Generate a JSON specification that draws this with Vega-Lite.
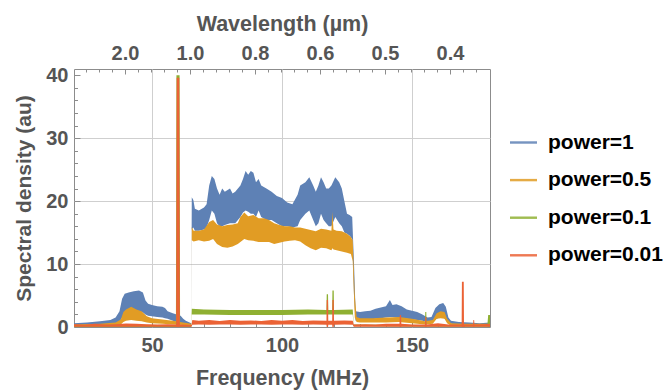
{
  "$schema": "https://vega.github.io/schema/vega-lite/v6.json",
  "width": 416,
  "height": 258,
  "autosize": {"type": "none"},
  "padding": {"left": 74, "top": 69, "right": 173, "bottom": 65},
  "background": "white",
  "config": {
    "view": {"stroke": "#8c8c8c", "strokeWidth": 1},
    "font": "Liberation Sans",
    "axis": {
      "domain": false,
      "labelFont": "Liberation Sans",
      "labelFontWeight": "bold",
      "labelFontSize": 20,
      "labelColor": "#555555",
      "titleFont": "Liberation Sans",
      "titleFontWeight": "bold",
      "titleFontSize": 21.5,
      "titleColor": "#555555",
      "tickColor": "#8c8c8c",
      "tickWidth": 1,
      "gridColor": "#cfcfcf",
      "gridWidth": 1,
      "grid": false
    }
  },
  "datasets": {
    "p1": [
      {"series":"power=1","f":20,"lo":0.1,"hi":0.6},
      {"series":"power=1","f":25,"lo":0.15,"hi":0.7},
      {"series":"power=1","f":30,"lo":0.2,"hi":0.9},
      {"series":"power=1","f":34,"lo":0.3,"hi":1.1},
      {"series":"power=1","f":36,"lo":0.5,"hi":1.5},
      {"series":"power=1","f":37.5,"lo":0.8,"hi":2.5},
      {"series":"power=1","f":38.5,"lo":1.5,"hi":4.5},
      {"series":"power=1","f":39.5,"lo":2.0,"hi":5.3},
      {"series":"power=1","f":41,"lo":2.2,"hi":5.5},
      {"series":"power=1","f":43,"lo":2.5,"hi":5.7},
      {"series":"power=1","f":45,"lo":2.5,"hi":5.8},
      {"series":"power=1","f":46.5,"lo":2.3,"hi":5.5},
      {"series":"power=1","f":47.5,"lo":2.0,"hi":4.2},
      {"series":"power=1","f":48.5,"lo":1.8,"hi":3.7},
      {"series":"power=1","f":50,"lo":1.7,"hi":3.5},
      {"series":"power=1","f":52,"lo":1.6,"hi":3.3},
      {"series":"power=1","f":54,"lo":1.5,"hi":3.2},
      {"series":"power=1","f":55,"lo":1.4,"hi":3.0},
      {"series":"power=1","f":56,"lo":1.3,"hi":2.5},
      {"series":"power=1","f":58,"lo":1.0,"hi":2.2},
      {"series":"power=1","f":59.5,"lo":0.8,"hi":2.0},
      {"series":"power=1","f":61,"lo":0.6,"hi":1.8},
      {"series":"power=1","f":62,"lo":0.4,"hi":1.3},
      {"series":"power=1","f":63,"lo":0.3,"hi":1.0},
      {"series":"power=1","f":65.1,"lo":0.2,"hi":0.6},
      {"series":"power=1","f":65.3,"lo":15.5,"hi":20.6},
      {"series":"power=1","f":65.9,"lo":15.8,"hi":20.2},
      {"series":"power=1","f":66.5,"lo":15.3,"hi":18.8},
      {"series":"power=1","f":68,"lo":15.3,"hi":18.5},
      {"series":"power=1","f":70,"lo":15.5,"hi":19.0},
      {"series":"power=1","f":71,"lo":15.8,"hi":19.5},
      {"series":"power=1","f":72,"lo":17.0,"hi":22.5},
      {"series":"power=1","f":73,"lo":18.5,"hi":24.0},
      {"series":"power=1","f":74,"lo":18.0,"hi":23.5},
      {"series":"power=1","f":75,"lo":16.5,"hi":22.0},
      {"series":"power=1","f":76,"lo":16.0,"hi":21.0},
      {"series":"power=1","f":77,"lo":16.0,"hi":22.0},
      {"series":"power=1","f":78,"lo":16.2,"hi":21.5},
      {"series":"power=1","f":80,"lo":16.5,"hi":22.0},
      {"series":"power=1","f":81,"lo":16.5,"hi":21.2},
      {"series":"power=1","f":82,"lo":16.5,"hi":21.5},
      {"series":"power=1","f":84,"lo":17.5,"hi":22.5},
      {"series":"power=1","f":85,"lo":18.2,"hi":23.5},
      {"series":"power=1","f":86,"lo":18.5,"hi":24.8},
      {"series":"power=1","f":87,"lo":18.3,"hi":24.2},
      {"series":"power=1","f":88,"lo":18.0,"hi":24.8},
      {"series":"power=1","f":89,"lo":18.0,"hi":24.5},
      {"series":"power=1","f":90,"lo":17.5,"hi":23.0},
      {"series":"power=1","f":91,"lo":18.5,"hi":23.5},
      {"series":"power=1","f":92,"lo":17.5,"hi":22.5},
      {"series":"power=1","f":94,"lo":17.0,"hi":22.0},
      {"series":"power=1","f":96,"lo":17.0,"hi":21.5},
      {"series":"power=1","f":98,"lo":16.5,"hi":20.8},
      {"series":"power=1","f":100,"lo":16.0,"hi":20.5},
      {"series":"power=1","f":102,"lo":16.0,"hi":19.8},
      {"series":"power=1","f":104,"lo":15.8,"hi":19.5},
      {"series":"power=1","f":106,"lo":16.0,"hi":21.0},
      {"series":"power=1","f":107,"lo":17.0,"hi":22.5},
      {"series":"power=1","f":109,"lo":18.0,"hi":23.0},
      {"series":"power=1","f":110.5,"lo":18.5,"hi":23.8},
      {"series":"power=1","f":112,"lo":17.0,"hi":22.5},
      {"series":"power=1","f":113,"lo":16.0,"hi":21.5},
      {"series":"power=1","f":114,"lo":16.5,"hi":22.5},
      {"series":"power=1","f":115,"lo":18.0,"hi":23.8},
      {"series":"power=1","f":116,"lo":17.0,"hi":23.0},
      {"series":"power=1","f":117,"lo":16.5,"hi":22.0},
      {"series":"power=1","f":118,"lo":16.0,"hi":22.0},
      {"series":"power=1","f":119,"lo":16.0,"hi":22.5},
      {"series":"power=1","f":120.5,"lo":17.5,"hi":23.8},
      {"series":"power=1","f":122,"lo":16.5,"hi":23.0},
      {"series":"power=1","f":123,"lo":16.0,"hi":22.0},
      {"series":"power=1","f":124,"lo":15.0,"hi":20.0},
      {"series":"power=1","f":125,"lo":14.8,"hi":18.0},
      {"series":"power=1","f":126,"lo":14.5,"hi":17.8},
      {"series":"power=1","f":127,"lo":14.0,"hi":17.5},
      {"series":"power=1","f":127.7,"lo":5.0,"hi":10.0},
      {"series":"power=1","f":128.3,"lo":1.0,"hi":2.5},
      {"series":"power=1","f":130,"lo":1.0,"hi":2.4},
      {"series":"power=1","f":132,"lo":1.1,"hi":2.5},
      {"series":"power=1","f":134,"lo":1.2,"hi":2.6},
      {"series":"power=1","f":136,"lo":1.3,"hi":2.9},
      {"series":"power=1","f":138,"lo":1.4,"hi":3.1},
      {"series":"power=1","f":140,"lo":1.5,"hi":3.3},
      {"series":"power=1","f":141.5,"lo":1.6,"hi":4.3},
      {"series":"power=1","f":142.5,"lo":1.6,"hi":3.5},
      {"series":"power=1","f":144,"lo":1.5,"hi":3.6},
      {"series":"power=1","f":146,"lo":1.4,"hi":3.3},
      {"series":"power=1","f":148,"lo":1.3,"hi":2.8},
      {"series":"power=1","f":150,"lo":1.2,"hi":2.6},
      {"series":"power=1","f":152,"lo":1.1,"hi":2.4},
      {"series":"power=1","f":154,"lo":1.0,"hi":2.0},
      {"series":"power=1","f":156,"lo":0.8,"hi":1.5},
      {"series":"power=1","f":157.5,"lo":0.8,"hi":1.6},
      {"series":"power=1","f":159,"lo":1.2,"hi":3.0},
      {"series":"power=1","f":160.5,"lo":1.5,"hi":3.6},
      {"series":"power=1","f":162,"lo":1.5,"hi":3.8},
      {"series":"power=1","f":163,"lo":1.2,"hi":3.2},
      {"series":"power=1","f":164,"lo":0.8,"hi":1.5},
      {"series":"power=1","f":165,"lo":0.5,"hi":1.0},
      {"series":"power=1","f":168,"lo":0.3,"hi":0.8},
      {"series":"power=1","f":172,"lo":0.3,"hi":0.7},
      {"series":"power=1","f":176,"lo":0.2,"hi":0.6},
      {"series":"power=1","f":180,"lo":0.2,"hi":0.7}
    ],
    "p05": [
      {"series":"power=0.5","f":20,"lo":0.0,"hi":0.4},
      {"series":"power=0.5","f":30,"lo":0.1,"hi":0.5},
      {"series":"power=0.5","f":36,"lo":0.2,"hi":0.7},
      {"series":"power=0.5","f":38,"lo":0.4,"hi":1.2},
      {"series":"power=0.5","f":39,"lo":0.8,"hi":2.4},
      {"series":"power=0.5","f":40,"lo":1.0,"hi":2.8},
      {"series":"power=0.5","f":42,"lo":1.1,"hi":3.2},
      {"series":"power=0.5","f":44,"lo":1.0,"hi":2.8},
      {"series":"power=0.5","f":46,"lo":0.9,"hi":2.5},
      {"series":"power=0.5","f":48,"lo":0.7,"hi":1.7},
      {"series":"power=0.5","f":50,"lo":0.6,"hi":1.4},
      {"series":"power=0.5","f":54,"lo":0.5,"hi":1.2},
      {"series":"power=0.5","f":58,"lo":0.4,"hi":1.0},
      {"series":"power=0.5","f":62,"lo":0.3,"hi":0.7},
      {"series":"power=0.5","f":65.1,"lo":0.2,"hi":0.5},
      {"series":"power=0.5","f":65.3,"lo":13.8,"hi":15.9},
      {"series":"power=0.5","f":66,"lo":13.6,"hi":15.3},
      {"series":"power=0.5","f":68,"lo":13.8,"hi":15.3},
      {"series":"power=0.5","f":70,"lo":13.6,"hi":15.5},
      {"series":"power=0.5","f":72,"lo":13.7,"hi":16.7},
      {"series":"power=0.5","f":73.5,"lo":14.0,"hi":17.0},
      {"series":"power=0.5","f":75,"lo":13.2,"hi":16.3},
      {"series":"power=0.5","f":77,"lo":12.7,"hi":16.0},
      {"series":"power=0.5","f":79,"lo":12.6,"hi":16.2},
      {"series":"power=0.5","f":81,"lo":12.8,"hi":16.3},
      {"series":"power=0.5","f":83,"lo":13.2,"hi":16.5},
      {"series":"power=0.5","f":84,"lo":13.5,"hi":17.5},
      {"series":"power=0.5","f":85.5,"lo":14.0,"hi":18.2},
      {"series":"power=0.5","f":87,"lo":13.8,"hi":17.6},
      {"series":"power=0.5","f":89,"lo":13.7,"hi":17.8},
      {"series":"power=0.5","f":91,"lo":13.5,"hi":17.3},
      {"series":"power=0.5","f":93,"lo":13.5,"hi":17.3},
      {"series":"power=0.5","f":95,"lo":13.5,"hi":17.0},
      {"series":"power=0.5","f":97,"lo":13.2,"hi":16.5},
      {"series":"power=0.5","f":99,"lo":13.4,"hi":16.2},
      {"series":"power=0.5","f":101,"lo":13.6,"hi":16.0},
      {"series":"power=0.5","f":103,"lo":13.7,"hi":16.0},
      {"series":"power=0.5","f":105,"lo":13.8,"hi":15.8},
      {"series":"power=0.5","f":107,"lo":13.6,"hi":15.8},
      {"series":"power=0.5","f":109,"lo":13.0,"hi":15.6},
      {"series":"power=0.5","f":111,"lo":12.5,"hi":15.4},
      {"series":"power=0.5","f":113,"lo":12.2,"hi":15.2},
      {"series":"power=0.5","f":115,"lo":12.6,"hi":15.6},
      {"series":"power=0.5","f":117,"lo":12.5,"hi":15.5},
      {"series":"power=0.5","f":119,"lo":12.2,"hi":15.3},
      {"series":"power=0.5","f":119.4,"lo":12.5,"hi":18.3},
      {"series":"power=0.5","f":119.8,"lo":12.3,"hi":15.5},
      {"series":"power=0.5","f":121,"lo":12.2,"hi":15.3},
      {"series":"power=0.5","f":123,"lo":12.0,"hi":15.2},
      {"series":"power=0.5","f":125,"lo":11.8,"hi":14.8},
      {"series":"power=0.5","f":126.5,"lo":11.6,"hi":14.3},
      {"series":"power=0.5","f":127.2,"lo":10.5,"hi":13.8},
      {"series":"power=0.5","f":128,"lo":1.5,"hi":5.0},
      {"series":"power=0.5","f":128.7,"lo":0.8,"hi":1.6},
      {"series":"power=0.5","f":130,"lo":0.7,"hi":1.4},
      {"series":"power=0.5","f":135,"lo":0.7,"hi":1.4},
      {"series":"power=0.5","f":140,"lo":0.7,"hi":1.5},
      {"series":"power=0.5","f":145,"lo":0.8,"hi":1.6},
      {"series":"power=0.5","f":150,"lo":0.6,"hi":1.3},
      {"series":"power=0.5","f":155,"lo":0.4,"hi":0.9},
      {"series":"power=0.5","f":158,"lo":0.5,"hi":1.1},
      {"series":"power=0.5","f":159.5,"lo":1.3,"hi":2.2},
      {"series":"power=0.5","f":161,"lo":1.4,"hi":2.5},
      {"series":"power=0.5","f":162.5,"lo":1.3,"hi":2.4},
      {"series":"power=0.5","f":163.5,"lo":0.6,"hi":1.3},
      {"series":"power=0.5","f":165,"lo":0.2,"hi":0.6},
      {"series":"power=0.5","f":170,"lo":0.1,"hi":0.5},
      {"series":"power=0.5","f":180,"lo":0.1,"hi":0.5}
    ],
    "p01": [
      {"series":"power=0.1","f":20,"lo":0.0,"hi":0.3},
      {"series":"power=0.1","f":40,"lo":0.0,"hi":0.35},
      {"series":"power=0.1","f":59.2,"lo":0.0,"hi":0.3},
      {"series":"power=0.1","f":59.4,"lo":0.0,"hi":40.0},
      {"series":"power=0.1","f":60.6,"lo":0.0,"hi":40.0},
      {"series":"power=0.1","f":60.8,"lo":0.0,"hi":0.3},
      {"series":"power=0.1","f":65.1,"lo":0.0,"hi":0.3},
      {"series":"power=0.1","f":65.3,"lo":2.0,"hi":2.9},
      {"series":"power=0.1","f":70,"lo":2.0,"hi":2.8},
      {"series":"power=0.1","f":80,"lo":1.9,"hi":2.7},
      {"series":"power=0.1","f":90,"lo":1.9,"hi":2.7},
      {"series":"power=0.1","f":100,"lo":1.9,"hi":2.7},
      {"series":"power=0.1","f":110,"lo":2.0,"hi":2.8},
      {"series":"power=0.1","f":117.1,"lo":2.0,"hi":2.7},
      {"series":"power=0.1","f":117.2,"lo":2.0,"hi":5.2},
      {"series":"power=0.1","f":117.7,"lo":2.0,"hi":5.2},
      {"series":"power=0.1","f":117.8,"lo":2.0,"hi":2.7},
      {"series":"power=0.1","f":119.3,"lo":2.0,"hi":2.7},
      {"series":"power=0.1","f":119.4,"lo":2.0,"hi":5.8},
      {"series":"power=0.1","f":119.9,"lo":2.0,"hi":5.8},
      {"series":"power=0.1","f":120.0,"lo":2.0,"hi":2.7},
      {"series":"power=0.1","f":127.2,"lo":2.0,"hi":2.8},
      {"series":"power=0.1","f":127.6,"lo":0.1,"hi":0.4},
      {"series":"power=0.1","f":155.0,"lo":0.05,"hi":0.3},
      {"series":"power=0.1","f":155.1,"lo":0.0,"hi":2.4},
      {"series":"power=0.1","f":155.5,"lo":0.0,"hi":2.4},
      {"series":"power=0.1","f":155.6,"lo":0.05,"hi":0.3},
      {"series":"power=0.1","f":179.0,"lo":0.05,"hi":0.3},
      {"series":"power=0.1","f":179.3,"lo":0.0,"hi":1.9},
      {"series":"power=0.1","f":180,"lo":0.0,"hi":1.9}
    ],
    "p001": [
      {"series":"power=0.01","f":20,"lo":0.05,"hi":0.45},
      {"series":"power=0.01","f":24,"lo":0.05,"hi":0.35},
      {"series":"power=0.01","f":28,"lo":0.05,"hi":0.5},
      {"series":"power=0.01","f":32,"lo":0.05,"hi":0.4},
      {"series":"power=0.01","f":36,"lo":0.05,"hi":0.45},
      {"series":"power=0.01","f":40,"lo":0.05,"hi":0.55},
      {"series":"power=0.01","f":44,"lo":0.05,"hi":0.5},
      {"series":"power=0.01","f":48,"lo":0.05,"hi":0.45},
      {"series":"power=0.01","f":52,"lo":0.05,"hi":0.4},
      {"series":"power=0.01","f":56,"lo":0.05,"hi":0.45},
      {"series":"power=0.01","f":59.3,"lo":0.05,"hi":0.4},
      {"series":"power=0.01","f":59.5,"lo":0.0,"hi":39.6},
      {"series":"power=0.01","f":60.5,"lo":0.0,"hi":39.6},
      {"series":"power=0.01","f":60.7,"lo":0.05,"hi":0.4},
      {"series":"power=0.01","f":63,"lo":0.05,"hi":0.35},
      {"series":"power=0.01","f":65.2,"lo":0.05,"hi":0.3},
      {"series":"power=0.01","f":65.5,"lo":0.35,"hi":1.1},
      {"series":"power=0.01","f":68,"lo":0.4,"hi":1.0},
      {"series":"power=0.01","f":72,"lo":0.35,"hi":1.1},
      {"series":"power=0.01","f":76,"lo":0.4,"hi":0.95},
      {"series":"power=0.01","f":80,"lo":0.4,"hi":1.1},
      {"series":"power=0.01","f":84,"lo":0.35,"hi":1.0},
      {"series":"power=0.01","f":88,"lo":0.4,"hi":1.05},
      {"series":"power=0.01","f":92,"lo":0.4,"hi":0.95},
      {"series":"power=0.01","f":96,"lo":0.35,"hi":1.1},
      {"series":"power=0.01","f":100,"lo":0.4,"hi":1.0},
      {"series":"power=0.01","f":104,"lo":0.4,"hi":1.1},
      {"series":"power=0.01","f":108,"lo":0.35,"hi":0.95},
      {"series":"power=0.01","f":112,"lo":0.4,"hi":1.05},
      {"series":"power=0.01","f":117.1,"lo":0.35,"hi":1.0},
      {"series":"power=0.01","f":117.2,"lo":0.0,"hi":4.3},
      {"series":"power=0.01","f":117.7,"lo":0.0,"hi":4.3},
      {"series":"power=0.01","f":117.8,"lo":0.35,"hi":1.0},
      {"series":"power=0.01","f":119.3,"lo":0.35,"hi":1.0},
      {"series":"power=0.01","f":119.4,"lo":0.0,"hi":4.3},
      {"series":"power=0.01","f":119.9,"lo":0.0,"hi":4.3},
      {"series":"power=0.01","f":120.0,"lo":0.35,"hi":1.0},
      {"series":"power=0.01","f":124,"lo":0.4,"hi":1.05},
      {"series":"power=0.01","f":127.2,"lo":0.35,"hi":1.0},
      {"series":"power=0.01","f":127.6,"lo":0.05,"hi":0.4},
      {"series":"power=0.01","f":132,"lo":0.05,"hi":0.45},
      {"series":"power=0.01","f":136,"lo":0.05,"hi":0.4},
      {"series":"power=0.01","f":140,"lo":0.05,"hi":0.5},
      {"series":"power=0.01","f":145.2,"lo":0.05,"hi":0.5},
      {"series":"power=0.01","f":145.3,"lo":0.0,"hi":1.9},
      {"series":"power=0.01","f":145.8,"lo":0.0,"hi":1.9},
      {"series":"power=0.01","f":145.9,"lo":0.05,"hi":0.5},
      {"series":"power=0.01","f":150,"lo":0.05,"hi":0.4},
      {"series":"power=0.01","f":155.0,"lo":0.05,"hi":0.4},
      {"series":"power=0.01","f":155.1,"lo":0.0,"hi":1.6},
      {"series":"power=0.01","f":155.5,"lo":0.0,"hi":1.6},
      {"series":"power=0.01","f":155.6,"lo":0.05,"hi":0.4},
      {"series":"power=0.01","f":160,"lo":0.05,"hi":0.6},
      {"series":"power=0.01","f":164,"lo":0.05,"hi":0.4},
      {"series":"power=0.01","f":169.1,"lo":0.05,"hi":0.4},
      {"series":"power=0.01","f":169.2,"lo":0.0,"hi":7.2},
      {"series":"power=0.01","f":169.9,"lo":0.0,"hi":7.2},
      {"series":"power=0.01","f":170.0,"lo":0.05,"hi":0.4},
      {"series":"power=0.01","f":173.5,"lo":0.05,"hi":0.4},
      {"series":"power=0.01","f":173.6,"lo":0.0,"hi":1.1},
      {"series":"power=0.01","f":173.9,"lo":0.0,"hi":1.1},
      {"series":"power=0.01","f":174.0,"lo":0.05,"hi":0.4},
      {"series":"power=0.01","f":178,"lo":0.05,"hi":0.45},
      {"series":"power=0.01","f":180,"lo":0.05,"hi":0.5}
    ]
  },
  "encoding": {
    "y2": {"field": "lo"},
    "color": {
      "field": "series", "type": "nominal",
      "scale": {"domain": ["power=1","power=0.5","power=0.1","power=0.01"], "range": ["#5E81B5","#E19C24","#8FB032","#EB6235"]},
      "legend": {"orient": "none", "legendX": 436, "legendY": 60, "title": null, "symbolType": "M-1,-0.09L1,-0.09L1,0.09L-1,0.09Z", "symbolSize": 729, "symbolStrokeWidth": 0, "symbolOpacity": 0.85, "labelFont": "Liberation Sans", "labelFontSize": 21, "labelFontWeight": "bold", "labelColor": "#000000", "labelOffset": 11, "rowPadding": 13.6}
    }
  },
  "layer": [
    {
      "data": {"name": "p1"},
      "mark": {"type": "area", "strokeWidth": 0},
      "encoding": {
        "x": {"field": "f", "type": "quantitative", "scale": {"domain": [20, 180], "nice": false, "zero": false},
          "axis": {"orient": "bottom", "values": [50, 100, 150], "grid": true, "tickSize": -6, "labelPadding": 14, "title": "Frequency (MHz)", "titlePadding": 12}},
        "y": {"field": "hi", "type": "quantitative", "scale": {"domain": [0, 41], "nice": false, "zero": false},
          "axis": {"orient": "left", "values": [0, 10, 20, 30, 40], "grid": true, "gridOpacity": {"condition": {"test": "datum.value > 0 && datum.value < 40", "value": 1}, "value": 0}, "tickSize": -6, "labelPadding": 12, "title": "Spectral density (au)", "titleFontSize": 21, "titlePadding": 11}}
      }
    },
    {
      "data": {"name": "p05"},
      "mark": {"type": "area", "strokeWidth": 0},
      "encoding": {
        "x": {"field": "f", "type": "quantitative", "scale": {"domain": [20, 180], "nice": false, "zero": false},
          "axis": {"orient": "bottom", "values": [30, 40, 60, 70, 80, 90, 110, 120, 130, 140, 160, 170], "grid": false, "tickSize": -3.5, "labels": false, "title": null}},
        "y": {"field": "hi", "type": "quantitative", "scale": {"domain": [0, 41], "nice": false, "zero": false},
          "axis": {"orient": "left", "values": [2, 4, 6, 8, 12, 14, 16, 18, 22, 24, 26, 28, 32, 34, 36, 38], "grid": false, "tickSize": -3.5, "labels": false, "title": null}}
      }
    },
    {
      "data": {"name": "p01"},
      "mark": {"type": "area", "strokeWidth": 0},
      "encoding": {
        "x": {"field": "f", "type": "quantitative", "scale": {"domain": [20, 180], "nice": false, "zero": false},
          "axis": {"orient": "top", "values": [39.6, 64.6, 89.6, 114.6, 139.6, 164.6], "grid": false, "tickSize": -5, "labelPadding": 11, "labelExpr": "datum.value < 50 ? '2.0' : datum.value < 70 ? '1.0' : datum.value < 95 ? '0.8' : datum.value < 120 ? '0.6' : datum.value < 145 ? '0.5' : '0.4'", "title": "Wavelength (µm)", "titlePadding": 8}},
        "y": {"field": "hi", "type": "quantitative", "scale": {"domain": [0, 41], "nice": false, "zero": false}, "axis": null}
      }
    },
    {
      "data": {"name": "p001"},
      "mark": {"type": "area", "strokeWidth": 0},
      "encoding": {
        "x": {"field": "f", "type": "quantitative", "scale": {"domain": [20, 180], "nice": false, "zero": false},
          "axis": {"orient": "top", "values": [24.6, 29.6, 34.6, 44.6, 49.6, 54.6, 59.6, 69.6, 74.6, 79.6, 84.6, 94.6, 99.6, 104.6, 109.6, 119.6, 124.6, 129.6, 134.6, 144.6, 149.6, 154.6, 159.6, 169.6, 174.6], "grid": false, "tickSize": -3, "labels": false, "title": null}},
        "y": {"field": "hi", "type": "quantitative", "scale": {"domain": [0, 41], "nice": false, "zero": false}, "axis": null}
      }
    }
  ],
  "resolve": {"axis": {"x": "independent", "y": "independent"}}
}
